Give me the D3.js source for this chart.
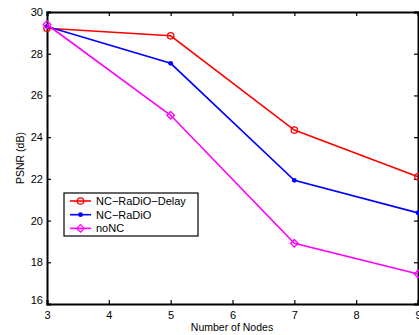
<!DOCTYPE html>
<html>
<head>
<meta charset="utf-8">
<script src="https://cdn.jsdelivr.net/npm/d3@7"></script>
<style>
body { margin: 0; background: #fff; }
text { font-family: "Liberation Sans", Arial, sans-serif; }
</style>
</head>
<body>
<div id="chart"></div>
<script>
// data
var nodes = [3, 5, 7, 9];
var delayPsnr = [29.22, 28.86, 24.34, 22.1];
var radioPsnr = [29.3, 27.54, 21.93, 20.37];
var noncPsnr = [29.4, 25.05, 18.91, 17.44];
var seriesNames = ["NC\u2212RaDiO\u2212Delay", "NC\u2212RaDiO", "noNC"];
var xTicks = [3, 4, 5, 6, 7, 8, 9];
var yTicks = [16, 18, 20, 22, 24, 26, 28, 30];

var W = 419, H = 335;
var svg = d3.select("#chart").append("svg").attr("width", W).attr("height", H);

var x = d3.scaleLinear().domain([3, 9]).range([47, 418]);
var y = d3.scaleLinear().domain([16, 30]).range([304, 12]);

var series = [
    {name: seriesNames[0], vals: delayPsnr, color: "#ff0000", marker: "circle"},
    {name: seriesNames[1], vals: radioPsnr, color: "#0000ff", marker: "dot"},
    {name: seriesNames[2], vals: noncPsnr, color: "#ff00ff", marker: "diamond"}
];

// axes: bottom/left with labels, top/right mirrored ticks only
svg.append("g").attr("class", "ax").attr("transform", "translate(0,304)")
    .call(d3.axisBottom(x).tickValues(xTicks).tickSize(-4).tickPadding(7).tickFormat(d3.format("d")));
svg.append("g").attr("class", "ax").attr("transform", "translate(47,0)")
    .call(d3.axisLeft(y).tickValues(yTicks).tickSize(-4).tickPadding(4).tickFormat(d3.format("d")));
svg.append("g").attr("class", "ax2").attr("transform", "translate(0,12)")
    .call(d3.axisTop(x).tickValues(xTicks).tickSize(-4).tickFormat(""));
svg.append("g").attr("class", "ax2").attr("transform", "translate(418,0)")
    .call(d3.axisRight(y).tickValues(yTicks).tickSize(-4).tickFormat(""));

svg.selectAll(".ax path, .ax2 path").attr("stroke", "#000").attr("stroke-width", 2);
svg.selectAll(".ax line, .ax2 line").attr("stroke", "#000").attr("stroke-width", 1.2);
svg.selectAll(".ax text").attr("fill", "#000").style("font-size", "11px");

// matlab puts the lowest y label up a bit and "3" a bit down
svg.selectAll(".ax text").filter(function(d) { return d === 16; }).attr("dy", "-0.05em");

function drawMarker(g, m, c, cx, cy) {
    if (m === "circle") {
        g.append("circle").attr("cx", cx).attr("cy", cy).attr("r", 3.2)
            .attr("fill", "none").attr("stroke", c).attr("stroke-width", 1.3);
    } else if (m === "dot") {
        g.append("circle").attr("cx", cx).attr("cy", cy).attr("r", 2.4).attr("fill", c);
    } else {
        var s = 3.8;
        g.append("path").attr("d", "M" + cx + "," + (cy - s) + "L" + (cx + s) + "," + cy +
            "L" + cx + "," + (cy + s) + "L" + (cx - s) + "," + cy + "Z")
            .attr("fill", "none").attr("stroke", c).attr("stroke-width", 1.3);
    }
}

var line = d3.line().x(function(d) { return x(d[0]); }).y(function(d) { return y(d[1]); });

series.forEach(function(s) {
    var pts = nodes.map(function(n, i) { return [n, s.vals[i]]; });
    var g = svg.append("g");
    g.append("path").attr("d", line(pts)).attr("fill", "none")
        .attr("stroke", s.color).attr("stroke-width", 1.6);
    pts.forEach(function(p) { drawMarker(g, s.marker, s.color, x(p[0]), y(p[1])); });
});

// legend
var lg = svg.append("g");
lg.append("rect").attr("x", 64).attr("y", 193).attr("width", 134).attr("height", 43)
    .attr("fill", "#fff").attr("stroke", "#000").attr("stroke-width", 1.2);
series.forEach(function(s, i) {
    var ly = 201 + i * 13.7;
    lg.append("line").attr("x1", 70).attr("x2", 91).attr("y1", ly).attr("y2", ly)
        .attr("stroke", s.color).attr("stroke-width", 1.6);
    drawMarker(lg, s.marker, s.color, 80.5, ly);
    lg.append("text").attr("x", 96).attr("y", ly + 4).style("font-size", "11px").text(s.name);
});

// axis titles
svg.append("text").attr("x", 232).attr("y", 331).attr("text-anchor", "middle")
    .style("font-size", "10.5px").text("Number of Nodes");
svg.append("text").attr("transform", "translate(24,158) rotate(-90)").attr("text-anchor", "middle")
    .style("font-size", "10.5px").text("PSNR (dB)");
</script>
</body>
</html>
